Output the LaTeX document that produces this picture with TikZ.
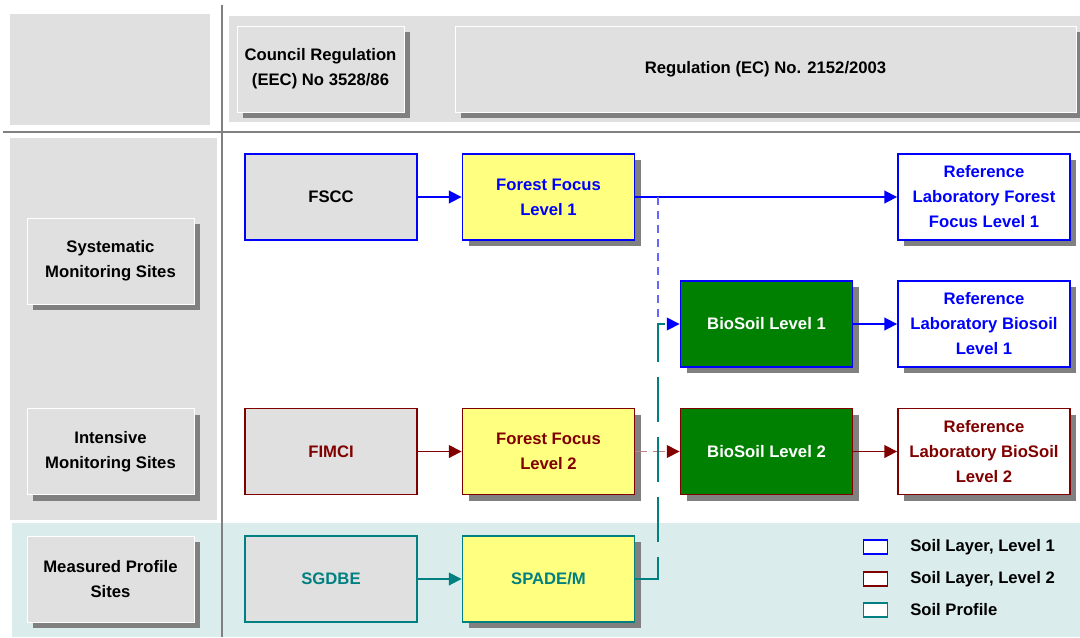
\documentclass[tikz,border=0pt]{standalone}
\usepackage{fontspec}
\setmainfont{Liberation Sans}
\usetikzlibrary{arrows.meta,shadows}

\definecolor{panelgray}{RGB}{224,224,224}
\definecolor{shadegray}{RGB}{128,128,128}
\definecolor{levelone}{RGB}{0,0,255}
\definecolor{leveltwo}{RGB}{128,0,0}
\definecolor{profile}{RGB}{0,128,128}
\definecolor{focusyellow}{RGB}{255,255,128}
\definecolor{biogreen}{RGB}{0,128,0}
\definecolor{profilebg}{RGB}{218,236,236}

\tikzset{
  box/.style={rectangle, minimum width=129pt, minimum height=64.5pt, inner sep=0pt,
    align=center, line width=1.4pt, font=\bfseries\fontsize{12.5}{18.75}\selectfont},
  shaded/.style={drop shadow={fill=shadegray, opacity=1, shadow xshift=4.5pt, shadow yshift=-4.5pt}},
  sitebox/.style={box, minimum width=125.25pt, fill=panelgray, draw=white, line width=0.6pt, shaded},
  conn/.style={line width=1.3pt, -{Triangle[length=9.5pt,width=9.5pt]}},
  keybox/.style={rectangle, minimum width=18pt, minimum height=10pt, inner sep=0pt, fill=white, line width=1.3pt},
  keytext/.style={anchor=west, inner sep=0pt, font=\bfseries\fontsize{12.5}{15}\selectfont}
}

\begin{document}
\begin{tikzpicture}[x=0.75pt, y=-0.75pt]
    \useasboundingbox (0,0) rectangle (1080,637);
    % panels
    \fill[panelgray] (10,14) rectangle (210,125);
    \fill[panelgray] (229,16) rectangle (1080,122);
    \fill[panelgray] (10,138) rectangle (217,520);
    \fill[profilebg] (12,523) rectangle (1080,637);
    \draw[shadegray, line width=1.5pt] (222,5) -- (222,637);
    \draw[shadegray, line width=1.5pt] (3,132) -- (1080,132);

    \node[sitebox] (council) at (320.5,69) {Council Regulation\\(EEC) No 3528/86};
    \node[sitebox, minimum width=465.75pt] (regul) at (765.5,69) {Regulation (EC) No. 2152/2003};
    \node[sitebox] (syst) at (110.5,261) {Systematic\\Monitoring Sites};
    \node[sitebox] (inten) at (110.5,451.5) {Intensive\\Monitoring Sites};
    \node[sitebox] (measured) at (110.5,579) {Measured Profile\\Sites};

    \node[box, draw=levelone, fill=panelgray] (fscc) at (331,197) {FSCC};
    \node[box, draw=levelone, fill=focusyellow, text=levelone, shaded] (ffa) at (548.5,197) {Forest Focus\\Level 1};
    \node[box, draw=levelone, fill=white, text=levelone, shaded] (reffa) at (984,197) {Reference\\Laboratory Forest\\Focus Level 1};
    \node[box, draw=levelone, fill=biogreen, text=white, shaded] (bioa) at (766.5,324) {BioSoil Level 1};
    \node[box, draw=levelone, fill=white, text=levelone, shaded] (refbioa) at (984,324) {Reference\\Laboratory Biosoil\\Level 1};

    \node[box, draw=leveltwo, fill=panelgray, text=leveltwo] (fimci) at (331,451.5) {FIMCI};
    \node[box, draw=leveltwo, fill=focusyellow, text=leveltwo, shaded] (ffb) at (548.5,451.5) {Forest Focus\\Level 2};
    \node[box, draw=leveltwo, fill=biogreen, text=white, shaded] (biob) at (766.5,451.5) {BioSoil Level 2};
    \node[box, draw=leveltwo, fill=white, text=leveltwo, shaded] (refbiob) at (984,451.5) {Reference\\Laboratory BioSoil\\Level 2};

    \node[box, draw=profile, fill=panelgray, text=profile] (sgdbe) at (331,579) {SGDBE};
    \node[box, draw=profile, fill=focusyellow, text=profile, shaded] (spade) at (548.5,579) {SPADE/M};

    \coordinate (jblue) at (658,197);
    \coordinate (tturn) at (658,579);
    \coordinate (tup) at (658,324);

    % level 1
    \draw[conn, levelone] (fscc) -- (ffa);
    \draw[conn, levelone] (ffa) -- (reffa);
    \draw[conn, levelone!60, line width=1.1pt, dash pattern=on 6pt off 4.5pt, -{Triangle[length=9.5pt,width=9.5pt,levelone]}] (jblue) |- (bioa.west);
    \draw[conn, levelone] (bioa) -- (refbioa);
    % level 2
    \draw[conn, leveltwo] (fimci) -- (ffb);
    \draw[conn, leveltwo!50, line width=1.1pt, dash pattern=on 9pt off 4.5pt, -{Triangle[length=9.5pt,width=9.5pt,leveltwo]}] (ffb) -- (biob);
    \draw[conn, leveltwo] (biob) -- (refbiob);
    % profile
    \draw[conn, profile] (sgdbe) -- (spade);
    \draw[profile, line width=1.2pt, dash pattern=on 33.75pt off 11.25pt] (spade.east) -- (tturn) -- (tup) -- (bioa.west);

    % legend
    \node[keybox, draw=levelone] (keya) at (875.5,547) {};
    \node[keybox, draw=leveltwo] (keyb) at (875.5,579) {};
    \node[keybox, draw=profile] (keyc) at (875.5,610) {};
    \node[keytext] (keyatext) at (910,547) {Soil Layer, Level 1};
    \node[keytext] (keybtext) at (910,579) {Soil Layer, Level 2};
    \node[keytext] (keyctext) at (910,610) {Soil Profile};
\end{tikzpicture}
\end{document}
